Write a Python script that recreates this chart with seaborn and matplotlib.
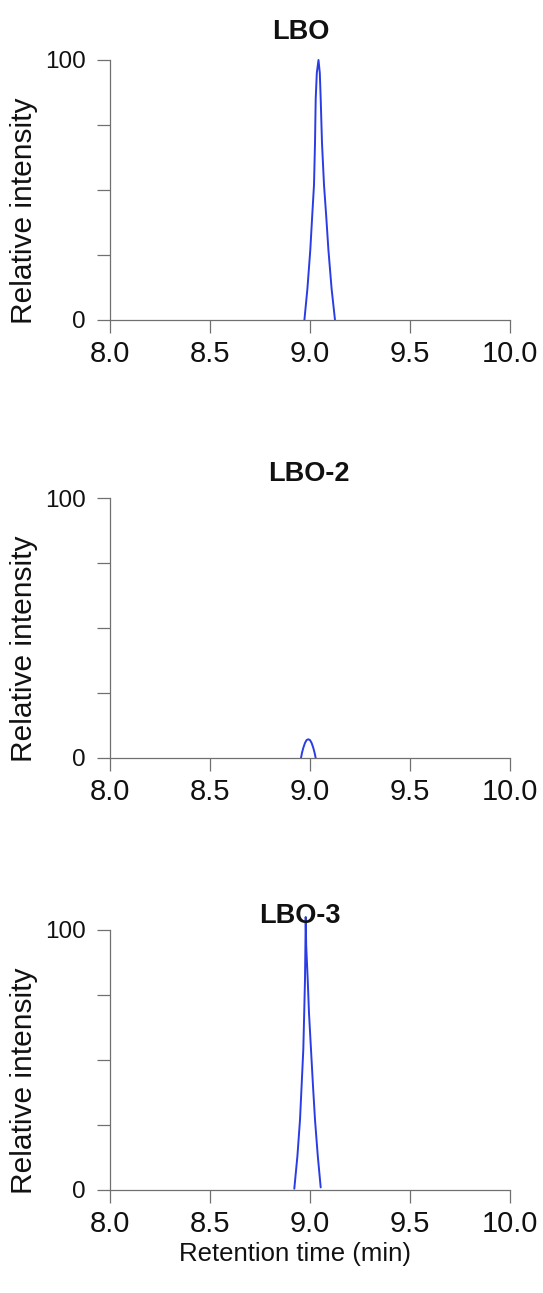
import matplotlib
matplotlib.use("Agg")
import matplotlib.pyplot as plt
import pandas as pd
import seaborn as sns

# Chromatogram traces (retention time in min, relative intensity in %)
lbo_time = [8.972, 8.987, 9.0015, 9.011, 9.020, 9.025, 9.0285, 9.034, 9.0425,
            9.049, 9.0535, 9.060, 9.070, 9.081, 9.092, 9.108, 9.125]
lbo_int = [0, 12, 27, 40, 52, 68, 85, 95, 100, 95, 85, 68, 52, 40, 27, 12, 0]

lbo2_time = [8.955, 8.960, 8.9665, 8.975, 8.983, 8.9915, 9.000, 9.008, 9.0165,
             9.023, 9.0285]
lbo2_int = [0, 2.0, 3.9, 5.8, 6.9, 7.2, 6.9, 5.8, 3.9, 2.0, 0]

lbo3_time = [8.9215, 8.937, 8.950, 8.958, 8.9665, 8.971, 8.975, 8.977, 8.9785,
             8.981, 8.9885, 8.995, 9.005, 9.015, 9.025, 9.039, 9.0535]
lbo3_int = [0.5, 13, 27, 40, 54, 68, 81, 94, 105, 94, 81, 68, 54, 40, 27, 13, 1]

titles = ["LBO", "LBO-2", "LBO-3"]
x_ticks = [8.0, 8.5, 9.0, 9.5, 10.0]
y_ticks = [0, 25, 50, 75, 100]
y_ticklabels = ["0", "", "", "", "100"]

traces = [(lbo_time, lbo_int), (lbo2_time, lbo2_int), (lbo3_time, lbo3_int)]

sns.set_style("ticks")
plt.rcParams["font.family"] = ["Liberation Sans", "DejaVu Sans"]

W, H = 543, 1293
fig = plt.figure(figsize=(W / 100, H / 100), dpi=100)

# panel geometry in pixels: (top of y-range, bottom of y-range)
panels = [(60, 320), (498, 758), (930, 1190)]
title_x = [0.4775, 0.4975, 0.475]
title_pad = [15, 12, 5]
left_px, right_px = 110, 510
grey = "#707070"
blue = "#2a3de4"
ink = "#111111"

for i, ((top, bot), (t, inten)) in enumerate(zip(panels, traces)):
    ax = fig.add_axes([left_px / W, 1 - bot / H, (right_px - left_px) / W, (bot - top) / H])
    df = pd.DataFrame({"time": t, "intensity": inten})
    sns.lineplot(data=df, x="time", y="intensity", ax=ax, color=blue,
                 linewidth=1.4, sort=False, estimator=None, clip_on=False)
    ax.set_xlim(8.0, 10.0)
    ax.set_ylim(0, 100)
    ax.set_xticks(x_ticks)
    ax.set_xticklabels([f"{v:.1f}" for v in x_ticks], fontsize=21, color=ink)
    ax.set_yticks(y_ticks)
    ax.set_yticklabels(y_ticklabels, fontsize=17.5, color=ink)
    ax.tick_params(axis="both", direction="out", length=9.5, width=0.9, color=grey)
    ax.tick_params(axis="y", pad=8)
    ax.tick_params(axis="x", pad=5)
    for side in ("top", "right"):
        ax.spines[side].set_visible(False)
    for side in ("left", "bottom"):
        ax.spines[side].set_color(grey)
        ax.spines[side].set_linewidth(0.9)
    ax.set_ylabel("Relative intensity", fontsize=21.5, color=ink)
    ax.yaxis.set_label_coords(-0.18, 0.42)
    ax.set_xlabel("")
    ax.set_title(titles[i], fontsize=19.5, fontweight="bold", x=title_x[i],
                 pad=title_pad[i], color=ink)
    if i == 2:
        ax.set_xlabel("Retention time (min)", fontsize=18.5, color=ink)
        ax.xaxis.set_label_coords(0.4625, -0.2)
        ax.xaxis.label.set_va("top")

fig.savefig("out.png", dpi=100)
